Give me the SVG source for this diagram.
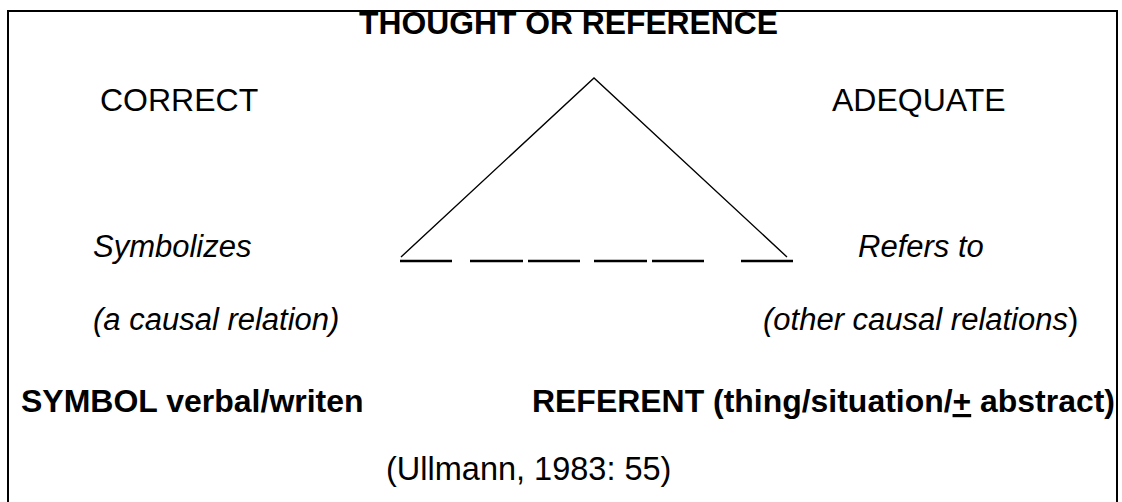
<svg xmlns="http://www.w3.org/2000/svg" width="1122" height="502" viewBox="0 0 1122 502">
<style>
text{font-family:"Liberation Sans",Arial,sans-serif;font-size:31px;fill:#000}
.b{font-weight:bold;font-size:32px}
.i{font-style:italic}
.u{font-style:normal}
.r{font-size:32px}
.tri{fill:none;stroke:#000;stroke-width:1.4}
.dash{stroke:#000;stroke-width:2.6}
</style>
<rect x="8" y="11" width="1109" height="500" fill="#fff" stroke="#000" stroke-width="2"/>
<g id="thought"><text class="b" x="359" y="34" textLength="419" lengthAdjust="spacingAndGlyphs">THOUGHT OR REFERENCE</text></g>
<g id="correct"><text class="r" x="100" y="111">CORRECT</text></g>
<g id="adequate"><text class="r" x="832" y="111">ADEQUATE</text></g>
<g id="symbolizes"><text class="i" x="93" y="257">Symbolizes</text></g>
<g id="refers"><text class="i" x="858" y="257">Refers to</text></g>
<g id="causal"><text class="i" x="93" y="330">(a causal relation)</text></g>
<g id="other"><text class="i" x="763" y="330">(other causal relations<tspan class="u">)</tspan></text></g>
<g id="symbol"><text class="b" x="21" y="412">SYMBOL verbal/writen</text></g>
<g id="referent"><text class="b" x="532" y="412" textLength="583" lengthAdjust="spacingAndGlyphs">REFERENT (thing/situation/<tspan text-decoration="underline">+</tspan> abstract)</text></g>
<g id="citation"><text x="386" y="480" style="font-size:32.5px">(Ullmann, 1983: 55)</text></g>
<g id="connectors">
<polyline class="tri" points="401,257 594,78 787,257"/>
<line class="dash" x1="400" y1="261" x2="452" y2="261"/>
<line class="dash" x1="470" y1="261" x2="523" y2="261"/>
<line class="dash" x1="528" y1="261" x2="580" y2="261"/>
<line class="dash" x1="594" y1="261" x2="647" y2="261"/>
<line class="dash" x1="652" y1="261" x2="704" y2="261"/>
<line class="dash" x1="741" y1="261" x2="793" y2="261"/>
</g>
</svg>
